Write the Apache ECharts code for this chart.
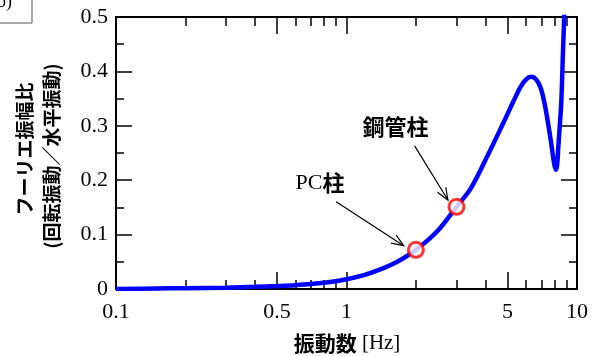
<!DOCTYPE html>
<html>
<head>
<meta charset="utf-8">
<script src="https://cdn.jsdelivr.net/npm/echarts@6/dist/echarts.min.js"></script>
<style>html,body{margin:0;padding:0;background:#fff}#c{width:600px;height:356px}</style>
</head>
<body>
<div id="c"></div>
<script>
// ---- data ----
var freq = [0.1, 0.15, 0.2, 0.3, 0.4, 0.5, 0.6, 0.7, 0.85, 1.0, 1.2, 1.4, 1.66, 2.0, 2.3, 2.55, 3.0, 3.45, 4.07, 4.8, 5.3, 5.7, 6.0, 6.32, 6.65, 6.95, 7.2, 7.4, 7.6, 7.8, 7.95, 8.09, 8.2, 8.3, 8.42, 8.55, 8.7, 8.85];
var amp  = [0.000, 0.001, 0.0015, 0.0025, 0.004, 0.0055, 0.007, 0.009, 0.013, 0.018, 0.026, 0.036, 0.050, 0.072, 0.093, 0.112, 0.151, 0.184, 0.243, 0.306, 0.345, 0.372, 0.385, 0.390, 0.385, 0.370, 0.345, 0.318, 0.288, 0.256, 0.232, 0.219, 0.228, 0.262, 0.300, 0.345, 0.44, 0.53];
var markFreq = [2.0, 3.0];
var markAmp = [0.072, 0.151];
var xMajorTicks = [0.1, 0.5, 1, 5, 10];
var xTickLabels = ['0.1', '0.5', '1', '5', '10'];
var xMinorTicks = [0.2, 0.3, 0.4, 0.6, 0.7, 0.8, 0.9, 2, 3, 4, 6, 7, 8, 9];
var yTickLabels = ['0', '0.1', '0.2', '0.3', '0.4', '0.5'];
var annotLatin = ['PC', ''];
var annotCJK = ['柱', '鋼管柱'];
var xTitleCJK = '振動数';
var xTitleUnit = ' [Hz]';
var yTitle1 = 'フーリエ振幅比';
var yTitle2 = '(回転振動／水平振動)';
var panelLabel = '(b)';

// ---- annotation placement (data coords) ----
var annotTextPos = [[0.767, 0.195], [1.63, 0.298]];
var arrowFrom = [[0.902, 0.1605], [1.975, 0.263]];
var arrowTo = [[1.77, 0.0796], [2.755, 0.1636]];

var L = Math.log10;
var SERIF = "'Liberation Serif', 'Noto Sans CJK JP', serif";
var CJK = "'Noto Sans CJK JP', sans-serif";
var chart = echarts.init(document.getElementById('c'), null, {renderer: 'canvas'});

function xAxisDef(pos, vals, len, showLabel) {
  return {
    type: 'value', position: pos, min: -1, max: 1, offset: 0,
    axisLine: {show: true, onZero: false, lineStyle: {color: '#000', width: 2}},
    axisTick: {show: true, inside: true, length: len, customValues: vals.map(L), lineStyle: {color: '#000', width: 1.5}},
    axisLabel: showLabel ? {
      show: true, customValues: xMajorTicks.map(L), margin: 12,
      fontFamily: SERIF, fontSize: 22, color: '#000',
      formatter: function (v) {
        for (var i = 0; i < xMajorTicks.length; i++) if (Math.abs(L(xMajorTicks[i]) - v) < 1e-6) return xTickLabels[i];
        return '';
      }
    } : {show: false},
    splitLine: {show: false}
  };
}
function yAxisDef(pos, showLabel) {
  return {
    type: 'value', position: pos, min: 0, max: 0.5, interval: 0.1,
    axisLine: {show: true, onZero: false, lineStyle: {color: '#000', width: 2}},
    axisTick: {show: true, inside: true, length: 16, lineStyle: {color: '#000', width: 1.5}},
    minorTick: {show: true, splitNumber: 2, length: 8, lineStyle: {color: '#000', width: 1.5}},
    axisLabel: showLabel ? {
      show: true, margin: 8, fontFamily: SERIF, fontSize: 22, color: '#000',
      formatter: function (v) { return yTickLabels[Math.round(v * 10)]; }
    } : {show: false},
    splitLine: {show: false}, minorSplitLine: {show: false}
  };
}

var lineData = freq.map(function (f, i) { return [L(f), amp[i]]; });
var markData = markFreq.map(function (f, i) { return [L(f), markAmp[i]]; });

chart.setOption({
  animation: false,
  grid: {left: 116, right: 23, top: 17, bottom: 67, containLabel: false},
  xAxis: [
    xAxisDef('bottom', xMajorTicks, 17, true),
    xAxisDef('bottom', xMinorTicks, 9, false),
    xAxisDef('top', xMajorTicks, 17, false),
    xAxisDef('top', xMinorTicks, 9, false)
  ],
  yAxis: [yAxisDef('left', true), yAxisDef('right', false)],
  series: [
    {type: 'line', data: lineData, smooth: 0.35, showSymbol: false, clip: true,
     lineStyle: {color: '#0000ff', width: 4.5}, z: 3},
    {type: 'scatter', data: markData, symbol: 'circle', symbolSize: 15,
     itemStyle: {color: '#fff', borderColor: '#ff0000', borderWidth: 3}, z: 5}
  ]
});

function richText(latin, cjk, size, latinFirst) {
  var t = latinFirst ? (latin ? '{l|' + latin + '}' : '') + '{c|' + cjk + '}' : '{c|' + cjk + '}' + (latin ? '{l|' + latin + '}' : '');
  return {
    text: t, fill: '#000', textAlign: 'center', textVerticalAlign: 'middle',
    rich: {
      l: {fontFamily: SERIF, fontSize: size, fill: '#000'},
      c: {fontFamily: CJK, fontSize: size, fontWeight: 'bold', fill: '#000'}
    }
  };
}

// ---- graphics: titles, annotations, arrows ----
var g = [];
g.push({type: 'text', x: 347, y: 343, style: richText(xTitleUnit, xTitleCJK, 21, false)});
g.push({type: 'text', x: 25, y: 149, rotation: Math.PI / 2, style: {text: yTitle1, font: 'bold 19px ' + CJK, fill: '#000', textAlign: 'center', textVerticalAlign: 'middle'}});
g.push({type: 'text', x: 52, y: 156, rotation: Math.PI / 2, style: {text: yTitle2, font: 'bold 19px ' + CJK, fill: '#000', textAlign: 'center', textVerticalAlign: 'middle'}});
g.push({type: 'rect', shape: {x: -40, y: -20, width: 72, height: 43}, style: {fill: 'none', stroke: '#555', lineWidth: 1}});
g.push({type: 'text', x: 12, y: 2, style: {text: panelLabel, font: '18px ' + SERIF, fill: '#000', textAlign: 'right', textVerticalAlign: 'middle'}});

function px(p) { return chart.convertToPixel({xAxisIndex: 0, yAxisIndex: 0}, [L(p[0]), p[1]]); }
for (var i = 0; i < annotCJK.length; i++) {
  var tp = px(annotTextPos[i]);
  g.push({type: 'text', x: tp[0], y: tp[1], style: richText(annotLatin[i], annotCJK[i], 22, true)});
  var a = px(arrowFrom[i]), b = px(arrowTo[i]);
  g.push({type: 'line', shape: {x1: a[0], y1: a[1], x2: b[0], y2: b[1]}, style: {stroke: '#000', lineWidth: 1.2}});
  var ang = Math.atan2(b[1] - a[1], b[0] - a[0]);
  var hl = 13, ha = 0.38;
  g.push({type: 'polyline', shape: {points: [
    [b[0] - hl * Math.cos(ang - ha), b[1] - hl * Math.sin(ang - ha)],
    [b[0], b[1]],
    [b[0] - hl * Math.cos(ang + ha), b[1] - hl * Math.sin(ang + ha)]
  ]}, style: {stroke: '#000', lineWidth: 1.2, fill: 'none'}});
}
chart.setOption({graphic: g});
</script>
</body>
</html>
